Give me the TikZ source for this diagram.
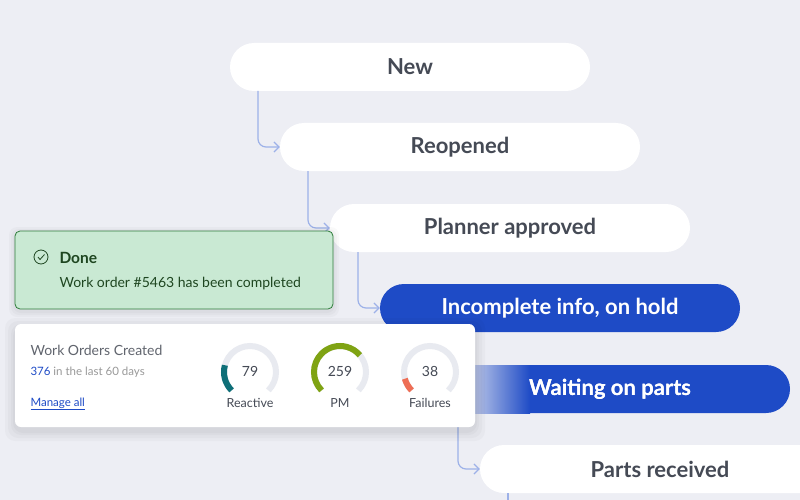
\documentclass[tikz,border=0pt]{standalone}
\usepackage{fontspec}
\setmainfont{Lato}
\usetikzlibrary{calc,arrows.meta}
\definecolor{bgc}{HTML}{EDEEF4}
\definecolor{flow}{HTML}{9DB1E8}
\definecolor{royal}{HTML}{1E4BC6}
\definecolor{ink}{HTML}{454A55}
\definecolor{mint}{HTML}{C9E9D3}
\definecolor{forest}{HTML}{2E7D3A}
\definecolor{deepgreen}{HTML}{1E4620}
\definecolor{track}{HTML}{E8EAF0}
\definecolor{teal}{HTML}{0E6F78}
\definecolor{olive}{HTML}{7FA313}
\definecolor{salmon}{HTML}{EE6E55}
\tikzset{
  pill/.style={rounded corners=24pt, minimum width=360pt, minimum height=48pt, inner sep=0pt,
    font=\fontsize{22}{26}\selectfont\bfseries},
  stage/.style={pill, fill=white, text=ink},
  active/.style={pill, fill=royal, text=white},
  link/.style={draw=flow, line width=1.2pt, rounded corners=8pt, -{Straight Barb[length=5pt,width=10pt]}},
  gauge/.style={line width=6pt},
  haze/.style={fill=black, fill opacity=0.025},
}
\begin{document}
\begin{tikzpicture}[x=1pt, y=-1pt]
\fill [bgc] (0,0) rectangle (800,500);
\useasboundingbox (0,0) rectangle (800,500);

\node [stage] (new) at (410,67) {New};
\node [stage] (reopen) at (460,147) {Reopened};
\node [stage] (planner) at (510,228) {Planner approved};
\node [active] (hold) at (560,308) {Incomplete info, on hold};
\node [active] (wait) at (610,389) {Waiting on parts};
\shade [left color=royal!20!bgc, right color=royal] (470,365) rectangle (530,413);
\node [active, fill=none] (waitt) at (610,389) {Waiting on parts};
\node [stage] (received) at (660,469) {Parts received};

\coordinate (n0) at (258,91);
\coordinate (r0) at (308,171);
\coordinate (p0) at (358,252);
\coordinate (w0) at (458,413);
\coordinate (x0) at (508,493);
\coordinate (x1) at (508,500);
\draw [link] (n0) |- (reopen.west);
\draw [link] (r0) |- (planner.west);
\draw [link] (p0) |- (hold.west);
\draw [link] (w0) |- (received.west);
\draw [draw=flow, line width=1.2pt] (x0) -- (x1);

% done toast
\foreach \g in {2,4,6}
  \fill [haze, rounded corners=8pt] (15-\g,231-\g+2) rectangle (333+\g,309+\g+2);
\node [draw=forest, fill=mint, rounded corners=5pt, line width=0.8pt, minimum width=318pt,
  minimum height=78pt] (done) at (174,270) {};
\node [draw=deepgreen, circle, line width=0.8pt, minimum size=14pt, inner sep=0pt] (tick) at (41,257) {};
\draw [deepgreen, line width=0.8pt] ($(tick)+(-3,0)$) -- ($(tick)+(-1,2.5)$) -- ($(tick)+(3.5,-2.5)$);
\node [anchor=west, text=deepgreen, font=\fontsize{15.5}{18}\selectfont\bfseries] (donet) at (56,258) {Done};
\node [anchor=west, text=deepgreen, font=\fontsize{14}{16}\selectfont] (doned) at (56,284) {Work order \#5463 has been completed};

% stats card
\foreach \g in {2,4,7,10}
  \fill [haze, rounded corners=10pt] (15-\g,324-\g+4) rectangle (475+\g,427+\g+4);
\node [fill=white, rounded corners=6pt, minimum width=460pt, minimum height=103pt] (card) at (245,375.5) {};
\node [anchor=west, text=ink!85, font=\fontsize{14}{16}\selectfont] (title) at (27,350) {Work Orders Created};
\node [anchor=west, font=\fontsize{11.5}{14}\selectfont] (sub) at (27,372) {\textcolor{royal}{376} \textcolor{gray!80}{in the last 60 days}};
\node [anchor=west, text=royal, font=\fontsize{11.5}{14}\selectfont] (manage) at (27,404) {\underline{Manage all}};

\foreach \cx/\val/\stop/\col/\lab in {250/79/165/teal/Reactive, 340/259/40/olive/PM, 430/38/195/salmon/Failures}{
  \begin{scope}[shift={(\cx,372)}, y=1pt]
    \draw [gauge, track] (225:26) arc[start angle=225, end angle=-45, radius=26];
    \draw [gauge, \col] (225:26) arc[start angle=225, end angle=\stop, radius=26];
  \end{scope}
  \node [text=ink, font=\fontsize{14}{16}\selectfont] (v\lab) at (\cx,371) {\val};
  \node [text=ink, font=\fontsize{12.5}{14}\selectfont] (l\lab) at (\cx,403) {\lab};
}
\end{tikzpicture}
\end{document}
